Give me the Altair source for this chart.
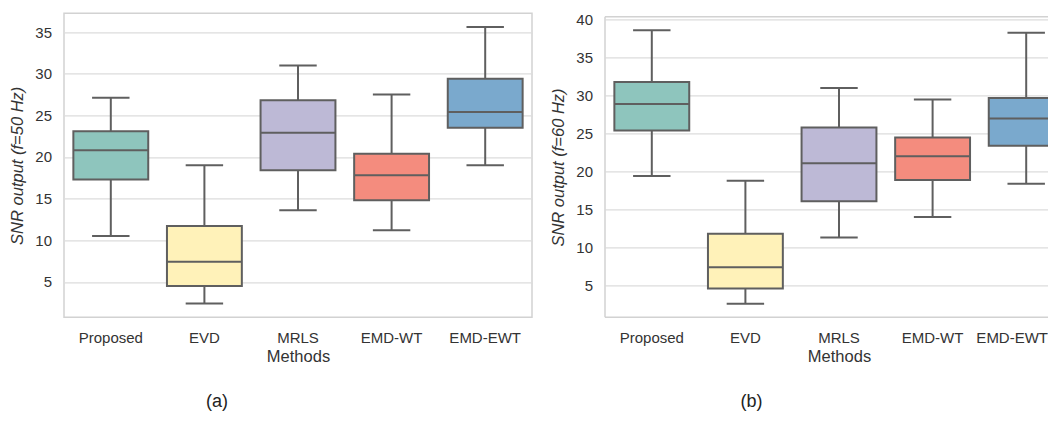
import altair as alt
import pandas as pd

methods = ["Proposed", "EVD", "MRLS", "EMD-WT", "EMD-EWT"]
colors = ["#8ec5bd", "#fff2b9", "#bdb9d6", "#f48c7e", "#7aa9cd"]

# panel (a) f=50 Hz
a_low = [10.5, 2.4, 13.6, 11.2, 19.0]
a_q1 = [17.3, 4.5, 18.4, 14.8, 23.5]
a_med = [20.8, 7.4, 22.9, 17.8, 25.4]
a_q3 = [23.1, 11.7, 26.8, 20.4, 29.4]
a_high = [27.1, 19.0, 31.0, 27.5, 35.6]
a_ticks = [5, 10, 15, 20, 25, 30, 35]

# panel (b) f=60 Hz
b_low = [19.4, 2.6, 11.3, 14.0, 18.4]
b_q1 = [25.4, 4.6, 16.1, 18.9, 23.4]
b_med = [28.9, 7.4, 21.1, 22.0, 27.0]
b_q3 = [31.8, 11.8, 25.8, 24.5, 29.7]
b_high = [38.6, 18.8, 31.0, 29.5, 38.3]
b_ticks = [5, 10, 15, 20, 25, 30, 35, 40]

GRAY = "#5f5f5f"
FRAME = "#d2d2d2"
FONT = "Liberation Sans"
LABEL = "#333333"
W = 468
H = 304
BAND = W / len(methods)
LABEL_PAD = 13.4


def panel(low, q1, med, q3, high, ticks, ytitle, caption, dx, yrange=None):
    df = pd.DataFrame({"method": methods, "low": low, "q1": q1, "med": med,
                       "q3": q3, "high": high})
    lo, hi = min(low), max(high)
    m = 0.05 * (hi - lo)
    ys = dict(domain=[lo - m, hi + m], nice=False, zero=False)
    if yrange is not None:
        ys["range"] = yrange
    last = methods[-1]

    ax = dict(labelAngle=0, ticks=False, domain=False, grid=False,
              labelPadding=LABEL_PAD, titlePadding=3.1)
    if yrange is not None:
        ax["labelExpr"] = f"datum.value === '{last}' ? '' : datum.label"
    x = alt.X("method:N", sort=methods, title="Methods",
              scale=alt.Scale(domain=methods, paddingInner=0, paddingOuter=0),
              axis=alt.Axis(**ax))

    def ye(f):
        return alt.Y(f, type="quantitative", title=ytitle, scale=alt.Scale(**ys),
                     axis=alt.Axis(values=ticks, ticks=False, domain=False,
                                   grid=True, labelPadding=12.5, titlePadding=9))

    base = alt.Chart(df)
    w_lo = base.mark_rule(color=GRAY, strokeWidth=2).encode(
        x=x, y=ye("low"), y2=alt.Y2("q1"))
    w_hi = base.mark_rule(color=GRAY, strokeWidth=2).encode(
        x=x, y=ye("q3"), y2=alt.Y2("high"))
    box = base.mark_bar(width=alt.RelativeBandSize(0.8), stroke=GRAY,
                        strokeWidth=2, opacity=1).encode(
        x=x, y=ye("q1"), y2=alt.Y2("q3"),
        fill=alt.Fill("method:N", scale=alt.Scale(domain=methods, range=colors),
                      legend=None))
    medl = base.mark_tick(size=BAND * 0.8, thickness=2, color=GRAY,
                          opacity=1).encode(x=x, y=ye("med"))
    cap_lo = base.mark_tick(size=BAND * 0.4, thickness=2, color=GRAY,
                            opacity=1).encode(x=x, y=ye("low"))
    cap_hi = base.mark_tick(size=BAND * 0.4, thickness=2, color=GRAY,
                            opacity=1).encode(x=x, y=ye("high"))
    layers = [w_lo, w_hi, box, medl, cap_lo, cap_hi]
    if yrange is not None:
        one = alt.Chart(pd.DataFrame({"k": [0]}))
        layers.append(one.mark_rule(color=FRAME, strokeWidth=1.5).encode(
            x=alt.value(0), x2=alt.value(W), y=alt.value(yrange[1])))
        layers.append(one.mark_rule(color=FRAME, strokeWidth=1.5).encode(
            x=alt.value(0), x2=alt.value(W), y=alt.value(yrange[0])))
        layers.append(one.mark_rule(color=FRAME, strokeWidth=1.5).encode(
            x=alt.value(0), y=alt.value(yrange[1]), y2=alt.value(yrange[0])))
        # last category label, nudged so it stays inside the page
        layers.append(base.transform_filter(alt.datum.method == last).mark_text(
            baseline="top", align="center", dx=-14, fontSize=15, font=FONT,
            color=LABEL).encode(x=x, y=alt.value(H + LABEL_PAD),
                                text="method:N"))
    ch = alt.layer(*layers).properties(
        width=W, height=H,
        title=alt.TitleParams(caption, orient="bottom", anchor="middle",
                              frame="group", dx=dx, offset=28, fontSize=18,
                              font=FONT, fontWeight="normal", color="#222222"))
    if yrange is not None:
        ch = ch.properties(view=alt.ViewBackground(stroke="transparent"))
    return ch


pa = panel(a_low, a_q1, a_med, a_q3, a_high, a_ticks, "SNR output (f=50 Hz)",
           "(a)", -81)
pb = panel(b_low, b_q1, b_med, b_q3, b_high, b_ticks, "SNR output (f=60 Hz)",
           "(b)", -87.5, yrange=[H, 3.4])

chart = alt.hconcat(pa, pb, spacing=73, bounds="flush").configure(
    font=FONT
).configure_view(
    stroke=FRAME, strokeWidth=1.5
).configure_axis(
    labelFont=FONT, titleFont=FONT, labelFontSize=15, titleFontSize=16.5,
    labelColor=LABEL, titleColor=LABEL, gridColor="#dcdcdc",
    gridWidth=1.3, titleFontWeight="normal"
).configure_axisY(
    titleFontStyle="italic"
).properties(
    autosize=alt.AutoSizeParams(type="none"),
    padding={"left": 56, "top": 5.3, "right": 984, "bottom": 397.7}
)

chart.save("out.html", embed_options={"renderer": "svg", "actions": False})
